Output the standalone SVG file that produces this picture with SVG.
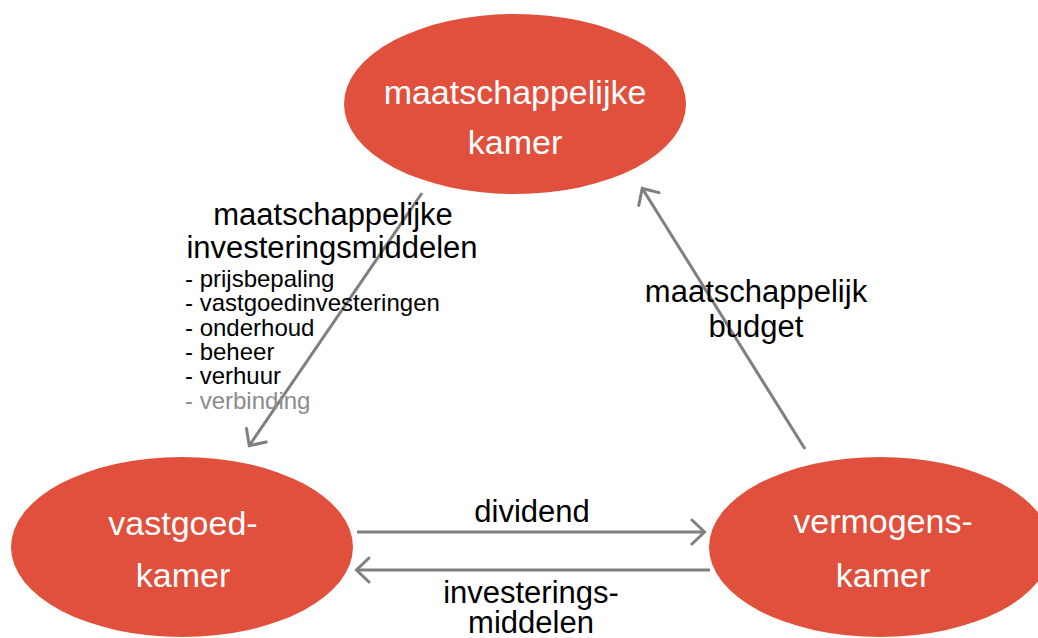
<svg xmlns="http://www.w3.org/2000/svg" width="1038" height="638" viewBox="0 0 1038 638">
  <style>
    .node { fill: #E0503C; }
    .ntext { font-family: "Liberation Sans", Arial, sans-serif; font-size: 34px; fill: #FFFFFF; text-anchor: middle; }
    .label { font-family: "Liberation Sans", Arial, sans-serif; font-size: 31px; fill: #000000; text-anchor: middle; }
    .item { font-family: "Liberation Sans", Arial, sans-serif; font-size: 24px; fill: #000000; }
    .grey { fill: #8C8C8C; }
    .conn { stroke: #7F7F7F; stroke-width: 3; fill: none; marker-end: url(#arrow); }
  </style>
  <defs>
    <marker id="arrow" viewBox="0 0 18 28" refX="16" refY="14" markerWidth="18" markerHeight="28" markerUnits="userSpaceOnUse" orient="auto">
      <path d="M3,2 L15.5,14 L3,26" fill="none" stroke="#7F7F7F" stroke-width="3" stroke-linecap="round" stroke-linejoin="miter"/>
    </marker>
  </defs>
  <rect width="1038" height="638" fill="#FFFFFF"/>

  <g id="connectors">
    <line class="conn" x1="422" y1="193" x2="249" y2="446"/>
    <line class="conn" x1="805" y1="449" x2="642" y2="188"/>
    <line class="conn" x1="357" y1="532" x2="705" y2="532"/>
    <line class="conn" x1="710" y1="570" x2="356" y2="570"/>
  </g>

  <g id="node-maatschappelijke-kamer">
    <ellipse class="node" cx="515" cy="104" rx="171" ry="90"/>
    <text class="ntext" x="515" y="104">maatschappelijke</text>
    <text class="ntext" x="515" y="154">kamer</text>
  </g>

  <g id="node-vastgoedkamer">
    <ellipse class="node" cx="182" cy="547" rx="171" ry="90"/>
    <text class="ntext" x="183" y="535">vastgoed-</text>
    <text class="ntext" x="183" y="587">kamer</text>
  </g>

  <g id="node-vermogenskamer">
    <ellipse class="node" cx="880" cy="547" rx="171" ry="90"/>
    <text class="ntext" x="883" y="533">vermogens-</text>
    <text class="ntext" x="883" y="587">kamer</text>
  </g>

  <g id="labels">
    <text class="label" x="333" y="225">maatschappelijke</text>
    <text class="label" x="332" y="258">investeringsmiddelen</text>
    <text class="item" x="185" y="287">- prijsbepaling</text>
    <text class="item" x="185" y="311">- vastgoedinvesteringen</text>
    <text class="item" x="185" y="336">- onderhoud</text>
    <text class="item" x="185" y="360">- beheer</text>
    <text class="item" x="185" y="384">- verhuur</text>
    <text class="item grey" x="185" y="409">- verbinding</text>
    <text class="label" x="756" y="302">maatschappelijk</text>
    <text class="label" x="756" y="337">budget</text>
    <text class="label" x="532" y="522">dividend</text>
    <text class="label" x="531" y="603">investerings-</text>
    <text class="label" x="531" y="633">middelen</text>
  </g>
</svg>
